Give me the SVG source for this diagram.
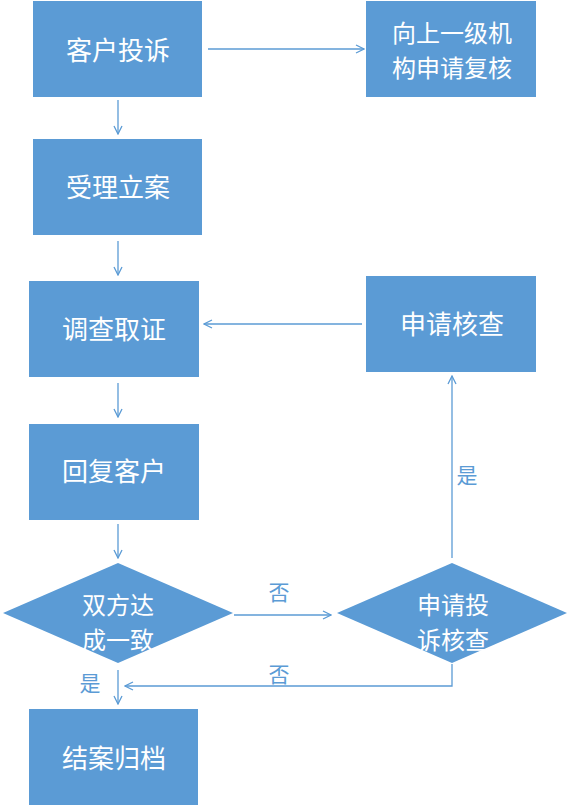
<svg xmlns="http://www.w3.org/2000/svg" width="568" height="807" viewBox="0 0 568 807">
<style>
.box{fill:#5B9BD5;}
.t{font-family:"Noto Sans CJK SC","Liberation Sans",sans-serif;font-size:26px;fill:#FFFFFF;text-anchor:middle;dominant-baseline:central;}
.t2{font-family:"Noto Sans CJK SC","Liberation Sans",sans-serif;font-size:24px;fill:#FFFFFF;text-anchor:middle;dominant-baseline:central;}
.lbl{font-family:"Noto Sans CJK SC","Liberation Sans",sans-serif;font-size:21px;fill:#5B9BD5;text-anchor:middle;dominant-baseline:central;}
.c{fill:none;stroke:#5B9BD5;stroke-width:1.3;}
</style>
<defs>
<marker id="arr" viewBox="0 0 10 10" refX="9" refY="5" markerWidth="10" markerHeight="10" markerUnits="userSpaceOnUse" orient="auto">
<path d="M1,1 L9,5 L1,9" fill="none" stroke="#5B9BD5" stroke-width="1.3"/>
</marker>
</defs>
<rect width="568" height="807" fill="#FFFFFF"/>
<g id="connectors">
<line class="c" x1="208" y1="49" x2="364" y2="49" marker-end="url(#arr)"/>
<line class="c" x1="118" y1="100" x2="118" y2="134" marker-end="url(#arr)"/>
<line class="c" x1="118" y1="241" x2="118" y2="275" marker-end="url(#arr)"/>
<line class="c" x1="362" y1="324" x2="204" y2="324" marker-end="url(#arr)"/>
<line class="c" x1="118" y1="383" x2="118" y2="417" marker-end="url(#arr)"/>
<line class="c" x1="118" y1="524" x2="118" y2="558" marker-end="url(#arr)"/>
<line class="c" x1="234" y1="615" x2="331" y2="615" marker-end="url(#arr)"/>
<line class="c" x1="452" y1="558" x2="452" y2="376" marker-end="url(#arr)"/>
<polyline class="c" points="452,664 452,686 125,686" marker-end="url(#arr)"/>
<line class="c" x1="118" y1="670" x2="118" y2="704" marker-end="url(#arr)"/>
<text class="lbl" x="279" y="591">否</text>
<text class="lbl" x="279" y="673">否</text>
<text class="lbl" x="90" y="682">是</text>
<text class="lbl" x="467" y="474">是</text>
</g>
<g id="n1"><rect class="box" x="33" y="1" width="169" height="96"/><text class="t" x="118" y="48">客户投诉</text></g>
<g id="n2"><rect class="box" x="366" y="1" width="170" height="96"/><text class="t2"><tspan x="452" y="31">向上一级机</tspan><tspan x="452" y="66">构申请复核</tspan></text></g>
<g id="n3"><rect class="box" x="33" y="139" width="169" height="96"/><text class="t" x="118" y="185">受理立案</text></g>
<g id="n4"><rect class="box" x="29" y="281" width="170" height="96"/><text class="t" x="114" y="327">调查取证</text></g>
<g id="n5"><rect class="box" x="366" y="276" width="170" height="96"/><text class="t" x="452" y="322">申请核查</text></g>
<g id="n6"><rect class="box" x="29" y="424" width="170" height="96"/><text class="t" x="114" y="469">回复客户</text></g>
<g id="n7"><polygon class="box" points="118,563 233,613 118,663 3,613"/><text class="t2"><tspan x="118" y="603">双方达</tspan><tspan x="118" y="638">成一致</tspan></text></g>
<g id="n8"><polygon class="box" points="452,563 567,613 452,663 337,613"/><text class="t2"><tspan x="453" y="603">申请投</tspan><tspan x="453" y="638">诉核查</tspan></text></g>
<g id="n9"><rect class="box" x="29" y="709" width="169" height="96"/><text class="t" x="114" y="756">结案归档</text></g>
</svg>
